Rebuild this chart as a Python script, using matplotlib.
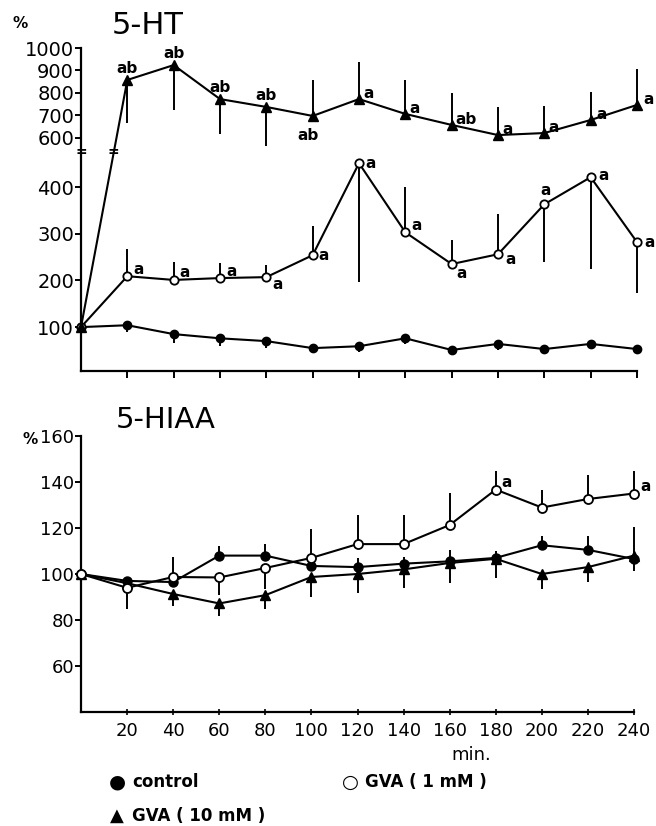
import matplotlib
matplotlib.use("Agg")
import matplotlib.pyplot as plt
import numpy as np

plt.rcParams['font.family'] = ['DejaVu Sans']

# ---------------- data ----------------
minutes = [0, 20, 40, 60, 80, 100, 120, 140, 160, 180, 200, 220, 240]

# 5-HT (% of baseline)
ht_control = [100, 104, 85, 76, 70, 55, 59, 76, 51, 64, 53, 64, 53]
ht_control_lo = [0, 15, 18, 17, 15, 0, 12, 12, 0, 12, 0, 8, 0]
ht_control_hi = [0] * 13

ht_gva1 = [100, 209, 201, 205, 207, 254, 451, 303, 235, 256, 363, 421, 282]
ht_gva1_lo = [0, 0, 0, 0, 0, 0, 255, 0, 0, 0, 124, 197, 109]
ht_gva1_hi = [0, 58, 38, 32, 26, 62, 0, 97, 51, 86, 0, 0, 0]
ht_gva1_sig = ['', 'a', 'a', 'a', 'a', 'a', 'a', 'a', 'a', 'a', 'a', 'a', 'a']

ht_gva10 = [100, 858, 924, 773, 738, 698, 773, 707, 658, 613, 622, 680, 747]
ht_gva10_lo = [0, 190, 200, 155, 174, 0, 0, 0, 0, 0, 0, 0, 0]
ht_gva10_hi = [0, 0, 0, 0, 0, 160, 165, 151, 142, 125, 120, 124, 160]
ht_gva10_sig = ['', 'ab', 'ab', 'ab', 'ab', 'ab', 'a', 'a', 'ab', 'a', 'a', 'a', 'a']

# 5-HIAA (% of baseline)
hiaa_control = [100, 97, 96.5, 108, 108, 103.5, 103, 104.5, 105.5, 107, 112.5, 110.5, 106.5]
hiaa_control_lo = [0, 6, 0, 0, 0, 0, 0, 0, 0, 0, 0, 0, 5]
hiaa_control_hi = [0, 0, 0, 4, 5, 0, 4, 3, 5, 3, 4, 6, 0]

hiaa_gva1 = [100, 94, 98.7, 98.5, 102.6, 107, 113, 113, 121.3, 136.7, 128.9, 132.6, 135]
hiaa_gva1_lo = [0, 9, 0, 7.5, 9, 0, 0, 0, 0, 0, 0, 0, 0]
hiaa_gva1_hi = [0, 0, 8.7, 0, 0, 12.6, 12.8, 12.6, 14, 8, 7.7, 10.5, 10]
hiaa_gva1_sig = ['', '', '', '', '', '', '', '', '', 'a', '', '', 'a']

hiaa_gva10 = [100, 96, 91.3, 87.2, 90.8, 98.7, 100, 102, 104.8, 106.6, 100, 103, 108]
hiaa_gva10_lo = [0, 6, 5, 5.6, 6, 8.7, 8.3, 8, 8.7, 8.3, 6.5, 6.6, 0]
hiaa_gva10_hi = [0, 0, 0, 0, 0, 0, 0, 0, 0, 0, 0, 0, 12.5]

ht_yticks = [100, 200, 300, 400, 600, 700, 800, 900, 1000]
hiaa_yticks = [60, 80, 100, 120, 140, 160]
x_ticks = [20, 40, 60, 80, 100, 120, 140, 160, 180, 200, 220, 240]

# ---------------- broken 5-HT scale ----------------
brk_lo, brk_hi = 475, 538
_y = np.array([-1000.0, brk_lo, brk_hi, 5000.0])
_f = np.array([-1000 * 0.467, brk_lo * 0.467, brk_lo * 0.467 + 0.05,
               brk_lo * 0.467 + 0.05 + 0.225 * (5000 - brk_hi)])


def fwd(y):
    return np.interp(y, _y, _f)


def inv(f):
    return np.interp(f, _f, _y)


W, H = 656, 826
fig = plt.figure(figsize=(W / 100, H / 100), dpi=100)

ax1 = fig.add_axes([81 / W, 1 - 371 / H, (637 - 81) / W, (371 - 48) / H])
ax2 = fig.add_axes([81 / W, 1 - 712 / H, (634 - 81) / W, (712 - 436) / H])

lw = 1.5
eb = dict(color='black', lw=lw, elinewidth=1.4, capsize=0, clip_on=False)

# top panel
ax1.set_yscale('function', functions=(fwd, inv))
ax1.errorbar(minutes, ht_control, yerr=[ht_control_lo, ht_control_hi],
             marker='o', ms=6, mfc='black', **eb)
ax1.errorbar(minutes, ht_gva1, yerr=[ht_gva1_lo, ht_gva1_hi],
             marker='o', ms=6, mfc='white', mew=1.3, zorder=4, **eb)
ax1.errorbar(minutes, ht_gva10, yerr=[ht_gva10_lo, ht_gva10_hi],
             marker='^', ms=7, mfc='black', zorder=4, **eb)

# significance letters (offsets in points)
gva10_off = [None, (0, 8), (0, 8), (0, 8), (0, 8), (-3, -14), (7, 4), (7, 4),
             (10, 4), (7, 4), (7, 4), (8, 4), (8, 4)]
gva1_off = [None, (8, 5), (8, 5), (8, 5), (8, -5), (8, 0), (8, 0), (8, 5),
            (7, -7), (9, -4), (1, 10), (9, 1), (9, 0)]
for x, y, s, o in zip(minutes, ht_gva10, ht_gva10_sig, gva10_off):
    if s:
        ax1.annotate(s, (x, y), xytext=o, textcoords='offset points',
                     ha='center', va='center', fontsize=11, fontweight='bold')
for x, y, s, o in zip(minutes, ht_gva1, ht_gva1_sig, gva1_off):
    if s:
        ax1.annotate(s, (x, y), xytext=o, textcoords='offset points',
                     ha='center', va='center', fontsize=11, fontweight='bold')

# break marks
brk_mid = (brk_lo + brk_hi) / 2
ax1.text(0, brk_mid, '=', ha='center', va='center', fontsize=10,
         fontweight='bold', clip_on=False)
ax1.text(14, brk_mid, '=', ha='center', va='center', fontsize=10,
         fontweight='bold', clip_on=False)

ax1.set_xlim(0, 240)
ax1.set_ylim(6, 1000)
ax1.set_xticks(x_ticks)
ax1.set_xticklabels([])
ax1.set_yticks(ht_yticks)
ax1.set_yticklabels([str(v) for v in ht_yticks])
ax1.yaxis.set_minor_locator(matplotlib.ticker.NullLocator())
ax1.tick_params(axis='x', direction='out', length=5, width=1.4)
ax1.tick_params(axis='y', direction='out', length=4, width=1.4, pad=1,
                labelsize=14)

# bottom panel
ax2.errorbar(minutes, hiaa_control, yerr=[hiaa_control_lo, hiaa_control_hi],
             marker='o', ms=6.5, mfc='black', **eb)
ax2.errorbar(minutes, hiaa_gva1, yerr=[hiaa_gva1_lo, hiaa_gva1_hi],
             marker='o', ms=6.5, mfc='white', mew=1.3, zorder=4, **eb)
ax2.errorbar(minutes, hiaa_gva10, yerr=[hiaa_gva10_lo, hiaa_gva10_hi],
             marker='^', ms=7, mfc='black', zorder=3, **eb)
for x, y, s in zip(minutes, hiaa_gva1, hiaa_gva1_sig):
    if s:
        ax2.annotate(s, (x, y), xytext=(8, 5), textcoords='offset points',
                     ha='center', va='center', fontsize=11, fontweight='bold')

ax2.set_xlim(0, 240)
ax2.set_ylim(40, 160)
ax2.set_xticks(x_ticks)
ax2.set_yticks(hiaa_yticks)
ax2.tick_params(axis='x', direction='inout', length=4, width=1.2,
                labelsize=13, pad=5)
ax2.tick_params(axis='y', direction='out', length=4, width=1.4, pad=1,
                labelsize=13)

for ax in (ax1, ax2):
    for side in ('top', 'right'):
        ax.spines[side].set_visible(False)
    for side in ('left', 'bottom'):
        ax.spines[side].set_linewidth(1.6)

# titles, units, legend
fig.text(148 / W, 1 - 26 / H, '5-HT', ha='center', va='center', fontsize=22)
fig.text(166 / W, 1 - 420 / H, '5-HIAA', ha='center', va='center', fontsize=21)
fig.text(20 / W, 1 - 24 / H, '%', ha='center', va='center', fontsize=11,
         fontweight='bold')
fig.text(30 / W, 1 - 440 / H, '%', ha='center', va='center', fontsize=11,
         fontweight='bold')
fig.text(471 / W, 1 - 755 / H, 'min.', ha='center', va='center', fontsize=13)

fig.text(117 / W, 1 - 782 / H, '●', ha='center', va='center', fontsize=14)
fig.text(132 / W, 1 - 782 / H, 'control', ha='left', va='center', fontsize=12,
         fontweight='bold')
fig.text(350 / W, 1 - 782 / H, '○', ha='center', va='center', fontsize=14)
fig.text(365 / W, 1 - 782 / H, 'GVA ( 1 mM )', ha='left', va='center',
         fontsize=12, fontweight='bold')
fig.text(117 / W, 1 - 816 / H, '▲', ha='center', va='center', fontsize=13)
fig.text(132 / W, 1 - 816 / H, 'GVA ( 10 mM )', ha='left', va='center',
         fontsize=12, fontweight='bold')

fig.savefig('out.png', dpi=100)
